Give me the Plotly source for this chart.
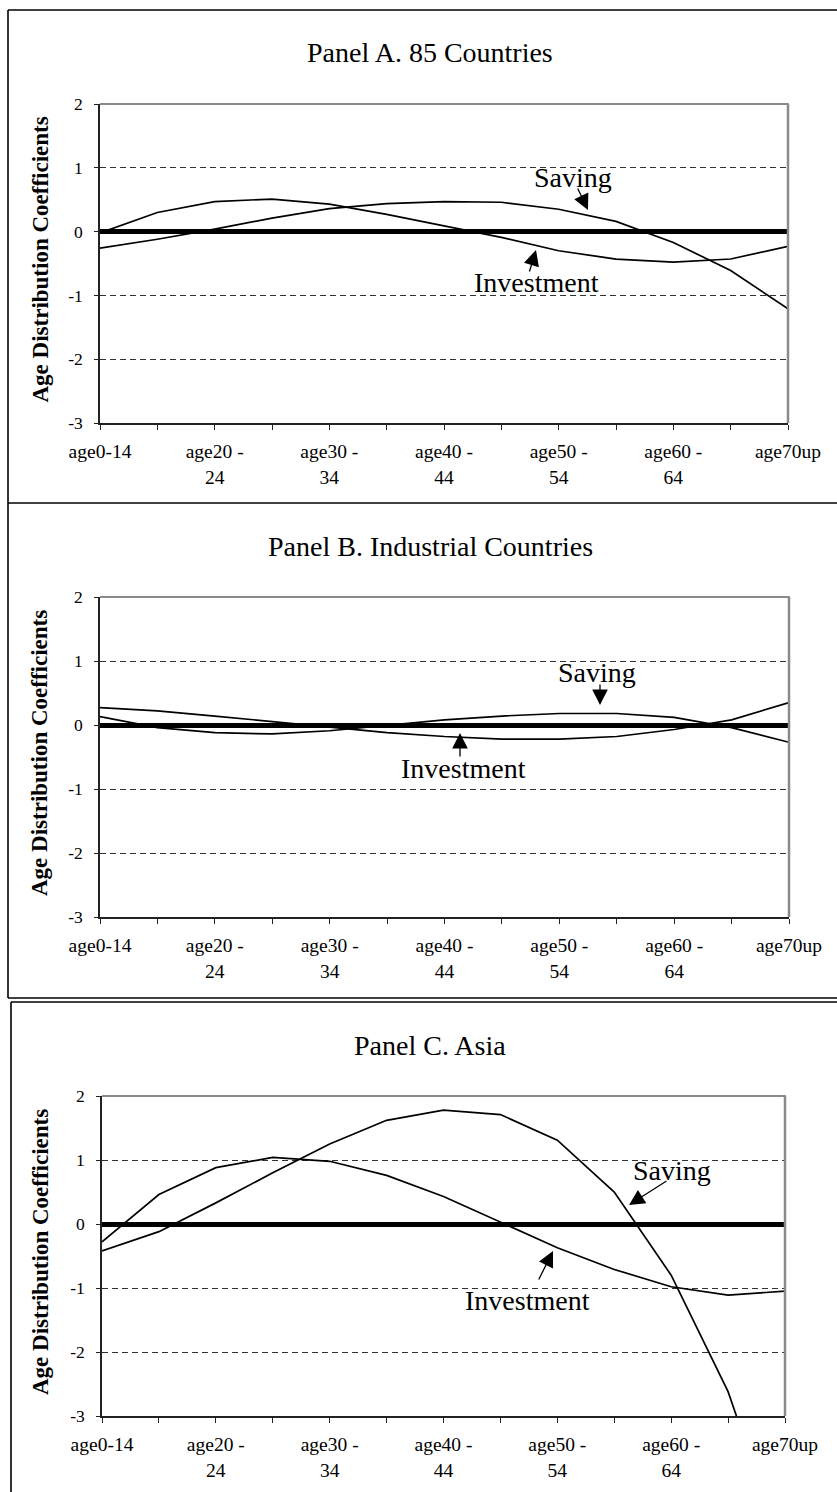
import plotly.graph_objects as go

W, H = 837, 1492

categories = ["age0-14", "age15-19", "age20-24", "age25-29", "age30-34", "age35-39",
              "age40-44", "age45-49", "age50-54", "age55-59", "age60-64", "age65-69", "age70up"]
tick_text = ["age0-14", "", "age20 -<br>24", "", "age30 -<br>34", "", "age40 -<br>44", "",
             "age50 -<br>54", "", "age60 -<br>64", "", "age70up"]
y_ticks = [-3, -2, -1, 0, 1, 2]

titles = ["Panel A. 85 Countries", "Panel B. Industrial Countries", "Panel C. Asia"]

# Panel A. 85 Countries
saving_a = [-0.26, -0.12, 0.04, 0.21, 0.36, 0.44, 0.47, 0.46, 0.35, 0.16, -0.17, -0.61, -1.21]
invest_a = [-0.02, 0.30, 0.47, 0.51, 0.43, 0.27, 0.09, -0.09, -0.30, -0.43, -0.48, -0.43, -0.23]
# Panel B. Industrial Countries
saving_b = [0.13, -0.04, -0.12, -0.14, -0.09, 0.00, 0.08, 0.14, 0.18, 0.18, 0.12, -0.04, -0.27]
invest_b = [0.27, 0.22, 0.14, 0.05, -0.04, -0.12, -0.18, -0.22, -0.22, -0.18, -0.07, 0.08, 0.35]
# Panel C. Asia
saving_c = [-0.42, -0.12, 0.33, 0.80, 1.25, 1.62, 1.78, 1.71, 1.31, 0.50, -0.80, -2.62, -5.2]
invest_c = [-0.28, 0.46, 0.88, 1.04, 0.98, 0.76, 0.43, 0.03, -0.37, -0.71, -0.98, -1.11, -1.05]

FONT = "Liberation Serif"


def fx(px):
    return px / W


def fy(py):
    return 1 - py / H


# plot areas in pixels: (left, right, top, bottom)
areas = [(100, 788, 104, 423), (100, 789, 597, 917), (102, 785, 1096, 1416)]
series = [(saving_a, invest_a), (saving_b, invest_b), (saving_c, invest_c)]

fig = go.Figure()
layout = dict(
    width=W, height=H, margin=dict(l=0, r=0, t=0, b=0, pad=0, autoexpand=False),
    paper_bgcolor="white", plot_bgcolor="white", showlegend=False,
    font=dict(family=FONT, color="black"),
)
shapes = []
annotations = []

for k, ((l, r, t, b), (sv, iv)) in enumerate(zip(areas, series)):
    n = "" if k == 0 else str(k + 1)
    xa, ya = "x" + n, "y" + n
    for vals, name in ((iv, "Investment"), (sv, "Saving")):
        fig.add_trace(go.Scatter(x=categories, y=vals, mode="lines", name=name,
                                 line=dict(color="black", width=1.7),
                                 xaxis=xa, yaxis=ya, hoverinfo="skip"))
    layout["xaxis" + n] = dict(
        domain=[fx(l), fx(r)], anchor=ya, type="category", range=[0, 12],
        tickmode="array", tickvals=categories, ticktext=tick_text,
        ticks="outside", ticklen=5, tickcolor="#222", tickwidth=1,
        showline=True, linecolor="#222", linewidth=1.5, showgrid=False,
        tickfont=dict(family=FONT, size=19.5, color="black"), ticklabelstandoff=5,
        tickangle=0, fixedrange=True, automargin=False,
    )
    layout["yaxis" + n] = dict(
        domain=[fy(b), fy(t)], anchor=xa, range=[-3, 2],
        tickmode="array", tickvals=y_ticks, ticktext=[str(v) for v in y_ticks],
        ticks="outside", ticklen=4, tickcolor="#222", tickwidth=1,
        showline=True, linecolor="#222", linewidth=1.5,
        showgrid=True, gridcolor="#333", gridwidth=1, griddash="6px,4px",
        zeroline=True, zerolinecolor="black", zerolinewidth=4.5,
        tickfont=dict(family=FONT, size=17.5, color="black"), ticklabelstandoff=8,
        fixedrange=True, automargin=False,
    )
    # gray top/right plot-area border
    shapes.append(dict(type="line", xref="paper", yref="paper", x0=fx(l), x1=fx(r) + 0.001,
                       y0=fy(t), y1=fy(t), line=dict(color="#8a8a8a", width=2)))
    shapes.append(dict(type="line", xref="paper", yref="paper", x0=fx(r), x1=fx(r),
                       y0=fy(b), y1=fy(t), line=dict(color="#8a8a8a", width=2.5)))
    # panel title
    annotations.append(dict(text=titles[k], xref="paper", yref="paper",
                            x=fx(430), y=fy(t - 51), showarrow=False,
                            font=dict(family=FONT, size=28, color="black"),
                            xanchor="center", yanchor="middle"))
    # y-axis title
    annotations.append(dict(text="<b>Age Distribution Coefficients</b>", xref="paper", yref="paper",
                            x=fx(40), y=fy((t + b) / 2 - 4), showarrow=False, textangle=-90,
                            font=dict(family=FONT, size=23, color="black"),
                            xanchor="center", yanchor="middle"))

# frames around panels
frame = [
    (8, 10, 837, 10), (8, 10, 8, 503), (8, 503, 837, 503),
    (8, 503, 8, 998), (8, 998, 837, 998),
    (11, 1002, 837, 1002), (11, 1002, 11, 1492),
]
for x0, y0, x1, y1 in frame:
    shapes.append(dict(type="line", xref="paper", yref="paper", x0=fx(x0), y0=fy(y0),
                       x1=fx(x1), y1=fy(y1), line=dict(color="black", width=1.6)))

# labels (text) and arrows: (text, text_x, text_y, tail_x, tail_y, tip_x, tip_y)
labels = [
    ("Saving", 573, 178, 577, 187, 588, 210),
    ("Investment", 536, 282, 529, 273, 536, 250),
    ("Saving", 597, 672, 600, 683, 600, 705),
    ("Investment", 463, 768, 460, 758, 460, 733),
    ("Saving", 672, 1170, 668, 1180, 629, 1205),
    ("Investment", 527, 1300, 538, 1281, 553, 1251),
]
for txt, tx, ty, ax, ay, hx, hy in labels:
    annotations.append(dict(text=txt, xref="paper", yref="paper", x=fx(tx), y=fy(ty),
                            showarrow=False, font=dict(family=FONT, size=28, color="black"),
                            xanchor="center", yanchor="middle", bgcolor="rgba(0,0,0,0)"))
    annotations.append(dict(text="", xref="paper", yref="paper", x=fx(hx), y=fy(hy),
                            ax=ax - hx, ay=ay - hy, showarrow=True, arrowhead=2,
                            arrowsize=2.4, arrowwidth=1.3, arrowcolor="black", standoff=0))

layout["shapes"] = shapes
layout["annotations"] = annotations
fig.update_layout(**layout)
fig.write_html(
    "out.html",
    config={"displayModeBar": False},
    post_script="document.body.style.margin='0';document.body.style.overflow='hidden';",
)
